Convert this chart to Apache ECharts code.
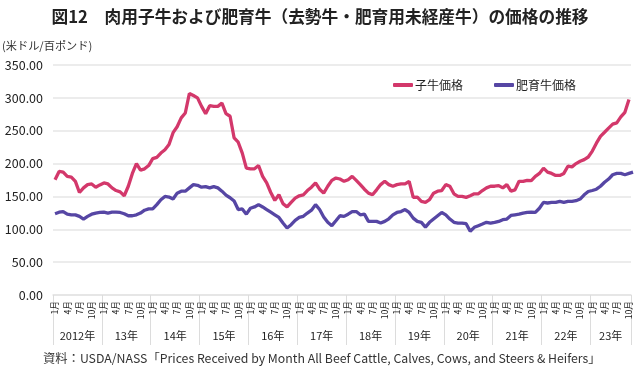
<!DOCTYPE html>
<html><head><meta charset="utf-8">
<script src="https://cdn.jsdelivr.net/npm/echarts@6/dist/echarts.min.js"></script>
<style>html,body{margin:0;padding:0;background:#fff}#c{width:640px;height:373px}</style>
</head><body><div id="c"></div>
<script>
const years = [2012,2013,2014,2015,2016,2017,2018,2019,2020,2021,2022,2023];
const lastMonth = 10;
const monthTickLabels = {1:'1月',4:'4月',7:'7月',10:'10月'};
const yearLabels = ['2012年','13年','14年','15年','16年','17年','18年','19年','20年','21年','22年','23年'];
const seriesNames = ['子牛価格','肥育牛価格'];
const calfPrice = [
175.5,188,187,180.5,179.5,173,156,163,168,169,164,167.5,
170.5,169,163,159,157,151,165.5,185,200,190,192,197,
207.5,209.5,216,221,229,247,256,269.5,277,306.6,303.5,300,
287,276,288,287,287,292,276,272,239,232.5,216,193,
192,192,197,180.5,170.5,156,144,152.5,139,134,141,147.5,
151,152.5,159,164,170.5,161,155,165.5,174.5,178,176.5,173,
175.5,180.5,174.5,168,161,155,152.5,160,168,173,168,165.5,
168,169,169,173,148.6,149,142.5,141,145,155,158,159,
168,165.5,154,150,150,148.6,151,154,154,159,163,165.5,
165.5,166.5,163,168,158,160,173,173,174.5,174,180.5,185,
193,187,185,182,182,185,196,195,200,203.5,206,210,
219,231,241.5,247.7,254,260,262,271,278,297.5
];
const feederPrice = [
123.7,126,127,123,122,122,119.7,115.6,119.7,123,124.7,125.6,
126,124.7,126,126,125.6,123.7,120.6,120.6,122,124.7,129,131,
131,137.5,145,150,149,146,155,158,158,163,168,167,
164,165,163,165,163,158,152,148,143,130,131,123,
132,134,137.5,134,130,126,122,118,109.5,102,107,113.6,
118,119.7,124.7,129,137.5,130,118.8,110.6,105.5,113,120.6,119.7,
123,127,127,122,123,112,112,112,109.5,112,116,122,
125.6,127,130,125.6,117,112,110.6,103.4,110.6,115.6,120.6,125.6,
122,115.6,110.6,109.5,109.5,108.5,97,103,105.5,108,110.6,109.5,
110.6,112,114.6,115.6,121,122,123,124.7,125.6,126,125.6,132,
141,140,141,141,142.5,141,142.5,142.5,143.5,146,152.5,157.5,
159,161,165.5,171.5,176.5,183,185,185,183,185,187
];
const yMin = 0, yMax = 350, yStep = 50;

const cats = [];
const catYearIdx = [];
years.forEach((y, yi) => {
  const n = (yi === years.length - 1) ? lastMonth : 12;
  for (let m = 1; m <= n; m++) { cats.push(y + '-' + m); catYearIdx.push(yi); }
});
const monthOf = c => +c.split('-')[1];

const chart = echarts.init(document.getElementById('c'));
const FONT = '"Noto Sans CJK JP", "Noto Sans", sans-serif';
chart.setOption({
  animation: false,
  textStyle: { fontFamily: FONT },
  title: {
    text: '図12　肉用子牛および肥育牛（去勢牛・肥育用未経産牛）の価格の推移',
    left: 'center', top: 3,
    textStyle: { fontSize: 16.7, fontWeight: 'bold', color: '#222', fontFamily: FONT }
  },
  graphic: [
    { type: 'text', left: 2, top: 40, style: { text: '(米ドル/百ポンド)', fontSize: 11.2, fill: '#333', fontFamily: FONT } },
    { type: 'text', left: 43, top: 352, style: { text: '資料：USDA/NASS「Prices Received by Month All Beef Cattle, Calves, Cows, and Steers & Heifers」', fontSize: 12.3, fill: '#333', fontFamily: FONT } }
  ],
  legend: {
    data: seriesNames, left: 388, top: 74, itemGap: 31,
    icon: 'roundRect', itemWidth: 20, itemHeight: 4,
    textStyle: { fontSize: 12, color: '#222', fontFamily: FONT, padding: [0,0,0,-3] }
  },
  grid: { left: 53, right: 9, top: 65, bottom: 78, containLabel: false },
  xAxis: [{
    type: 'category', data: cats, boundaryGap: true,
    axisLine: { show: true, lineStyle: { color: '#e4e4e4', width: 1.5 } },
    axisTick: { show: true, interval: (i) => i % 12 === 0, length: 50, lineStyle: { color: '#dcdcdc', width: 1 } },
    axisLabel: {
      interval: (i, v) => !!monthTickLabels[monthOf(v)],
      formatter: v => monthTickLabels[monthOf(v)] || '',
      rotate: 90, fontSize: 8.7, color: '#222', margin: 6, fontFamily: FONT
    },
    splitLine: { show: false }
  }, {
    type: 'category', data: cats, boundaryGap: true, position: 'bottom',
    axisLine: { show: false }, axisTick: { show: false },
    axisLabel: {
      interval: (i, v) => { const yi = catYearIdx[i]; const n = yi === years.length - 1 ? lastMonth : 12; return monthOf(v) === Math.floor(n / 2) + 1; },
      formatter: (v, i) => yearLabels[catYearIdx[i]],
      fontSize: 11, color: '#222', margin: 35, padding: [0, 4, 0, 0], fontFamily: FONT
    }
  }],
  yAxis: {
    type: 'value', min: yMin, max: yMax, interval: yStep,
    axisLine: { show: false }, axisTick: { show: false },
    axisLabel: { formatter: v => v.toFixed(2), fontSize: 12.5, color: '#222', margin: 10, fontFamily: FONT },
    splitLine: { lineStyle: { color: '#e6e6e6', width: 1.5 } }
  },
  series: [
    { name: seriesNames[0], type: 'line', data: calfPrice, showSymbol: false, symbol: 'none',
      lineStyle: { color: '#d3386b', width: 3.3 }, itemStyle: { color: '#d3386b' } },
    { name: seriesNames[1], type: 'line', data: feederPrice, showSymbol: false, symbol: 'none',
      lineStyle: { color: '#5646a4', width: 3.3 }, itemStyle: { color: '#5646a4' } }
  ]
});
</script></body></html>
